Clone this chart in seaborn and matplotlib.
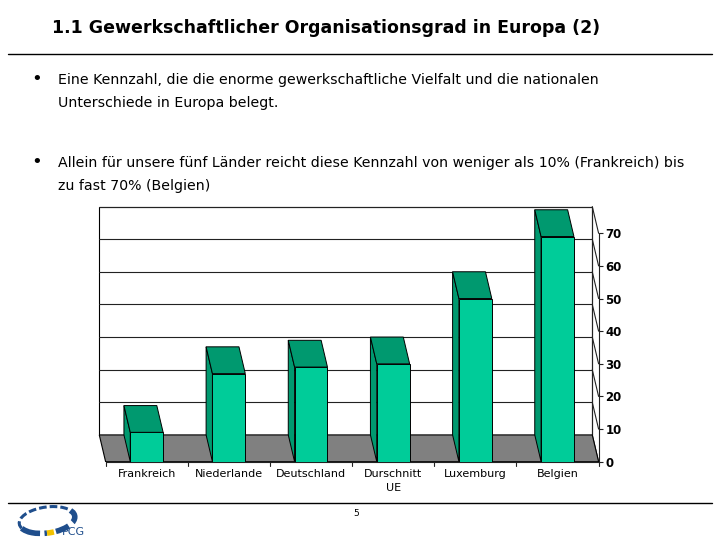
import numpy as np
import pandas as pd
import matplotlib
matplotlib.use('Agg')
import matplotlib.pyplot as plt
import seaborn as sns
from matplotlib.patches import Polygon, Rectangle, Arc

# data
laender = ['Frankreich', 'Niederlande', 'Deutschland', 'Durschnitt\nUE', 'Luxemburg', 'Belgien']
organisationsgrad = [9, 27, 29, 30, 50, 69]
y_ticks = [0, 10, 20, 30, 40, 50, 60, 70]

title = '1.1 Gewerkschaftlicher Organisationsgrad in Europa (2)'
bullet1 = ['Eine Kennzahl, die die enorme gewerkschaftliche Vielfalt und die nationalen',
           'Unterschiede in Europa belegt.']
bullet2 = ['Allein für unsere fünf Länder reicht diese Kennzahl von weniger als 10% (Frankreich) bis',
           'zu fast 70% (Belgien)']

df = pd.DataFrame({'Land': laender, 'Grad': organisationsgrad})

sns.set_style('white')
plt.rcParams['font.family'] = ['DejaVu Sans']
plt.rcParams['text.color'] = 'black'
plt.rcParams['xtick.color'] = 'black'
plt.rcParams['ytick.color'] = 'black'

front = '#00CC99'
dark = '#00996F'
floor = '#808080'

# oblique depth (back plane shift)
ddx = 0.077
ddy = 8.2

fig = plt.figure(figsize=(7.2, 5.4), dpi=100)

# slide texts
fig.text(52 / 720, 1 - 28 / 540, title, fontsize=12.5, fontweight='bold', va='center', ha='left')
fig.add_artist(plt.Line2D([8 / 720, 712 / 720], [1 - 54 / 540] * 2, color='black', lw=1))
for y0, lines in [(80, bullet1), (163, bullet2)]:
    fig.text(31 / 720, 1 - (y0 - 1) / 540, '•', fontsize=13, va='center', ha='left')
    for i, t in enumerate(lines):
        fig.text(58 / 720, 1 - (y0 + 23 * i) / 540, t, fontsize=10.2, va='center', ha='left')
fig.add_artist(plt.Line2D([8 / 720, 712 / 720], [1 - 503 / 540] * 2, color='black', lw=1))
fig.text(356 / 720, 1 - 514 / 540, '5', fontsize=6.5, va='center', ha='center')

# chart
ax = fig.add_axes([97.4 / 720, 1 - 461.7 / 540, 501.2 / 720, 0.4750])
sns.barplot(data=df, x='Land', y='Grad', color=front, width=0.4,
            edgecolor='black', linewidth=0.7, saturation=1, ax=ax, zorder=5)

n = len(laender)
xl, xr = -0.5, n - 0.5
top = y_ticks[-1]

# back wall
ax.add_patch(Rectangle((xl - ddx, ddy), xr - xl, top, facecolor='white',
                       edgecolor='black', lw=0.8, zorder=1))
for v in y_ticks:
    ax.plot([xl - ddx, xr - ddx], [v + ddy, v + ddy], color='#222222', lw=0.8, zorder=2)
    ax.plot([xr - ddx, xr], [v + ddy, v], color='#222222', lw=0.8, zorder=2)
ax.plot([xr - ddx, xr - ddx], [ddy, top + ddy], color='#222222', lw=0.8, zorder=2)

# floor
ax.add_patch(Polygon([(xl, 0), (xr, 0), (xr - ddx, ddy), (xl - ddx, ddy)],
                     closed=True, facecolor=floor, edgecolor='black', lw=0.8, zorder=3))

# side and top faces of the bars
for p in ax.patches[:n]:
    x0 = p.get_x()
    x1 = x0 + p.get_width()
    h = p.get_height()
    side = [(x0, 0), (x0, h), (x0 - ddx, h + ddy), (x0 - ddx, ddy)]
    topf = [(x0, h), (x1, h), (x1 - ddx, h + ddy), (x0 - ddx, h + ddy)]
    ax.add_patch(Polygon(side, closed=True, facecolor=dark, edgecolor='black', lw=0.7, zorder=4))
    ax.add_patch(Polygon(topf, closed=True, facecolor=dark, edgecolor='black', lw=0.7, zorder=6))

ax.set_xlim(xl - 0.1, xr)
ax.set_ylim(0, top + ddy + 0.4)
ax.set_xlabel('')
ax.set_ylabel('')

for s in ['top', 'left']:
    ax.spines[s].set_visible(False)
ax.spines['right'].set_position(('data', xr))
ax.spines['right'].set_bounds(0, top)
ax.spines['bottom'].set_bounds(xl, xr)
ax.spines['right'].set_linewidth(0.8)
ax.spines['bottom'].set_linewidth(0.8)
ax.spines['right'].set_color('#222222')
ax.spines['bottom'].set_color('#222222')
ax.spines['right'].set_zorder(7)

ax.yaxis.tick_right()
ax.set_yticks(y_ticks)
ax.set_yticklabels([str(v) for v in y_ticks], fontsize=8.5, fontweight='bold')
ax.tick_params(axis='y', direction='out', length=3, width=0.8, pad=2, color='#222222')

ax.set_xticks(range(n))
ax.set_xticklabels(laender, fontsize=8, linespacing=1.5)
ax.tick_params(axis='x', length=0, pad=5)
for b in np.arange(n + 1) - 0.5:
    ax.plot([b, b], [0, -1.3], color='#222222', lw=0.8, clip_on=False, zorder=7)

# PCG logo
lax = fig.add_axes([10 / 720, 0, 90 / 720, 40 / 540])
lax.set_xlim(0, 90)
lax.set_ylim(0, 40)
lax.axis('off')
lax.add_patch(Arc((37, 20), 56, 26, angle=8, theta1=20, theta2=190, lw=2.2, color='#1F4E8C',
                  linestyle=(0, (2.5, 1.0))))
lax.add_patch(Arc((37, 20), 56, 26, angle=8, theta1=190, theta2=262, lw=4, color='#1F4E8C',
                  linestyle=(0, (3.5, 0.8))))
lax.add_patch(Arc((37, 20), 56, 26, angle=8, theta1=262, theta2=292, lw=4, color='#F2C200'))
lax.add_patch(Arc((37, 20), 56, 26, angle=8, theta1=300, theta2=380, lw=4, color='#1F4E8C',
                  linestyle=(0, (2.5, 1.0))))
lax.text(52, 8, 'PCG', fontsize=8, color='#1F4E8C', va='center', ha='left')

fig.savefig('out.png', dpi=100)
